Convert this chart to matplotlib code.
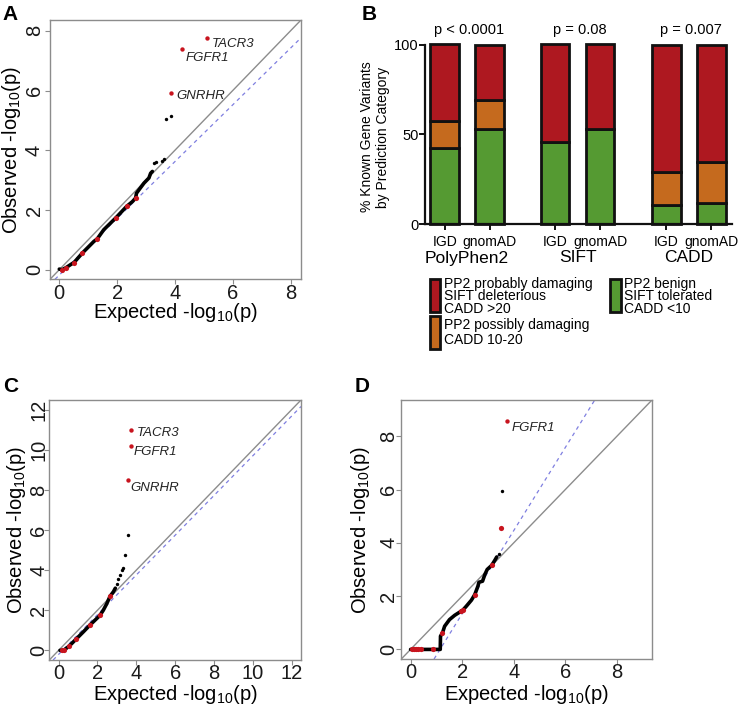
import matplotlib
matplotlib.use("Agg")
import matplotlib.pyplot as plt
from matplotlib.patches import Rectangle

plt.rcParams["font.family"] = ["Liberation Sans", "DejaVu Sans"]
plt.rcParams["mathtext.fontset"] = "custom"
plt.rcParams["mathtext.rm"] = "Liberation Sans"
plt.rcParams["mathtext.it"] = "Liberation Sans:italic"

W, H, DPI = 744, 711, 100
RED, ORANGE, GREEN = "#AE1820", "#C56A1E", "#559A32"
PT_RED = "#C8141E"
GREY = "#8c8c8c"
DASH = "#7f7fe0"

# ---------------- data ----------------
# panel A: QQ plot (expected vs observed -log10 p)
a_exp = [0.0, 0.10, 0.22, 0.39, 0.51, 0.80, 1.20, 1.31, 1.54, 1.95, 2.33, 2.53, 2.64,
         2.67, 2.76, 2.93, 3.10, 3.16, 3.22]
a_obs = [0.02, 0.0, 0.06, 0.17, 0.24, 0.56, 0.95, 1.03, 1.34, 1.73, 2.12, 2.28, 2.40,
         2.56, 2.68, 2.90, 3.07, 3.23, 3.29]
a_tail_exp = [3.27, 3.34, 3.54, 3.61, 3.70, 3.86]
a_tail_obs = [3.57, 3.59, 3.65, 3.70, 5.04, 5.16]
a_red_exp = [0.10, 0.22, 0.51, 0.80, 1.31, 1.95, 2.33, 2.64]
a_red_obs = [0.0, 0.06, 0.24, 0.56, 1.03, 1.73, 2.12, 2.40]
a_gene = ["GNRHR", "FGFR1", "TACR3"]
a_gene_exp = [3.88, 4.26, 5.11]
a_gene_obs = [5.91, 7.38, 7.75]

# panel B: stacked % of known gene variants by prediction category
tools = ["PolyPhen2", "SIFT", "CADD"]
cohorts = ["IGD", "gnomAD", "IGD", "gnomAD", "IGD", "gnomAD"]
benign = [42.5, 52.9, 45.6, 53.2, 10.9, 11.8]
possibly = [15.2, 16.4, 0.0, 0.0, 18.3, 22.7]
damaging = [42.3, 30.7, 54.4, 46.8, 70.8, 65.5]
pvals = ["p < 0.0001", "p = 0.08", "p = 0.007"]

# panel C
c_exp = [0.07, 0.17, 0.26, 0.55, 0.58, 0.92, 1.27, 1.60, 2.05, 2.13, 2.30, 2.48, 2.65,
         2.82, 2.92]
c_obs = [0.0, 0.0, 0.0, 0.22, 0.25, 0.58, 0.92, 1.25, 1.67, 1.75, 2.0, 2.33, 2.70,
         2.92, 3.10]
c_tail_exp = [3.0, 3.08, 3.17, 3.25, 3.30, 3.42, 3.55]
c_tail_obs = [3.33, 3.58, 3.75, 4.0, 4.12, 4.75, 5.75]
c_red_exp = [0.17, 0.26, 0.55, 0.92, 1.60, 2.13, 2.65]
c_red_obs = [0.0, 0.0, 0.22, 0.58, 1.25, 1.75, 2.70]
c_gene = ["GNRHR", "FGFR1", "TACR3"]
c_gene_exp = [3.56, 3.71, 3.75]
c_gene_obs = [8.47, 10.17, 11.0]

# panel D
d_exp = [0.0, 1.15, 1.16, 1.23, 1.32, 1.51, 1.71, 1.97, 2.03, 2.16, 2.36, 2.49, 2.61,
         2.65, 2.79, 2.88, 2.97, 3.14, 3.27, 3.34]
d_obs = [0.0, 0.0, 0.50, 0.60, 0.87, 1.12, 1.28, 1.44, 1.48, 1.62, 1.85, 2.06, 2.37,
         2.52, 2.56, 2.81, 3.0, 3.15, 3.35, 3.47]
d_tail_exp = [3.42, 3.55]
d_tail_obs = [3.57, 5.96]
d_red_exp = [0.05, 0.12, 0.20, 0.30, 0.40, 0.87, 1.23, 1.97, 2.03, 2.49, 3.14, 3.50]
d_red_obs = [0.0, 0.0, 0.0, 0.0, 0.0, 0.0, 0.60, 1.44, 1.48, 2.06, 3.15, 4.54]
d_gene = ["FGFR1"]
d_gene_exp = [3.73]
d_gene_obs = [8.59]

fig = plt.figure(figsize=(W / DPI, H / DPI), dpi=DPI)


def px_rect(x0, y0, x1, y1):
    return [x0 / W, 1 - y1 / H, (x1 - x0) / W, (y1 - y0) / H]


def qq_panel(rect, top, ticks, exp, obs, t_exp, t_obs, r_exp, r_obs,
             genes, g_exp, g_obs, g_off, dash, ylab_x, xlab_y, ypad):
    ax = fig.add_axes(rect)
    lim = (-0.04 * top, 1.04 * top)
    ax.set_xlim(lim); ax.set_ylim(lim)
    ax.axline((0, 0), slope=1, color=GREY, lw=1.0, zorder=1)
    ax.axline((0, dash[0]), slope=dash[1], color=DASH, lw=0.9,
              ls=(0, (3, 3)), zorder=1)
    ax.plot(exp, obs, color="black", lw=2.6, zorder=2, solid_capstyle="round")
    ax.scatter(t_exp, t_obs, s=6, color="black", lw=0, zorder=3)
    ax.scatter(r_exp, r_obs, s=14, color=PT_RED, lw=0, zorder=4)
    ax.scatter(g_exp, g_obs, s=10, color=PT_RED, lw=0, zorder=4)
    for g, x, y, (dx, dy) in zip(genes, g_exp, g_obs, g_off):
        ax.annotate(g, (x, y), xytext=(dx, dy), textcoords="offset pixels",
                    fontsize=9.5, style="italic", color="#222222",
                    ha="left", va="center")
    for s in ax.spines.values():
        s.set_color(GREY); s.set_linewidth(1.0)
    ax.set_xticks(ticks); ax.set_yticks(ticks)
    ax.tick_params(length=3.6, width=0.8, color=GREY, labelsize=14.5,
                   labelcolor="#1a1a1a")
    ax.tick_params(axis="x", pad=-0.5)
    ax.tick_params(axis="y", pad=ypad)
    for lab in ax.get_yticklabels():
        lab.set_rotation(90)
        lab.set_rotation_mode("anchor")
        lab.set_ha("center")
        lab.set_va("baseline")
    ax.text(0.5, xlab_y, r"Expected -log$_{10}$(p)", transform=ax.transAxes,
            ha="center", va="center", fontsize=14.5)
    ax.text(ylab_x, 0.5, r"Observed -log$_{10}$(p)", transform=ax.transAxes,
            ha="center", va="center", rotation=90, fontsize=14.5)
    return ax


# A
qq_panel(px_rect(50, 20, 301, 279.3), 8.04, [0, 2, 4, 6, 8],
         a_exp, a_obs, a_tail_exp, a_tail_obs, a_red_exp, a_red_obs,
         a_gene, a_gene_exp, a_gene_obs, [(5, -3), (3, -9), (5, -6)],
         (-0.18, 0.95), (12 - 50) / 251, (279.3 - 313) / 259.3, 3.6)
# C
qq_panel(px_rect(49.3, 400, 301, 660), 12.0, [0, 2, 4, 6, 8, 10, 12],
         c_exp, c_obs, c_tail_exp, c_tail_obs, c_red_exp, c_red_obs,
         c_gene, c_gene_exp, c_gene_obs, [(3, -8), (3, -6), (5, -3)],
         (-0.2, 0.99), (17 - 49.3) / 251.7, (660 - 695) / 260, 0.0)
# D
qq_panel(px_rect(401.3, 400, 652, 659), 9.0, [0, 2, 4, 6, 8],
         d_exp, d_obs, d_tail_exp, d_tail_obs, d_red_exp, d_red_obs,
         d_gene, d_gene_exp, d_gene_obs, [(5, -7)],
         (-1.78, 1.56), (360 - 401.3) / 250.7, (659 - 695) / 259, 1.6)

# B: stacked bars
axb = fig.add_axes(px_rect(425.3, 44.5, 732, 224.3))
xpos = [0, 1, 2.45, 3.45, 4.92, 5.92]
bw = 0.64
bot2 = [b + p for b, p in zip(benign, possibly)]
kw = dict(width=bw, edgecolor="#111111", linewidth=2.0, clip_on=False, zorder=2)
axb.bar(xpos, benign, color=GREEN, **kw)
axb.bar(xpos, possibly, bottom=benign, color=ORANGE, **kw)
axb.bar(xpos, damaging, bottom=bot2, color=RED, **kw)
axb.set_xlim(-0.43, 6.38); axb.set_ylim(0, 100)
for k in ("top", "right"):
    axb.spines[k].set_visible(False)
for k in ("left", "bottom"):
    axb.spines[k].set_linewidth(1.6); axb.spines[k].set_color("#111111")
axb.set_yticks([0, 50, 100])
axb.set_xticks(xpos, cohorts)
axb.tick_params(length=4, width=1.4, color="#111111", labelsize=10.5, pad=1)
axb.tick_params(axis="x", labelsize=10, pad=4)
tr = axb.get_xaxis_transform()
for i, (t, p) in enumerate(zip(tools, pvals)):
    cx = (xpos[2 * i] + xpos[2 * i + 1]) / 2
    axb.text(cx, (224.3 - 258) / 179.8, t, transform=tr, ha="center",
             va="center", fontsize=12.5)
    axb.text(cx + 0.05, (224.3 - 30) / 179.8, p, transform=tr, ha="center",
             va="center", fontsize=10.5)

# overlay for panel letters, B y-label and legend (pixel coords)
ov = fig.add_axes([0, 0, 1, 1], zorder=-1)
ov.set_xlim(0, W); ov.set_ylim(H, 0); ov.axis("off")
for L, x, y in [("A", 10, 14), ("B", 369, 14), ("C", 11, 386), ("D", 362, 386)]:
    ov.text(x, y, L, fontsize=15, fontweight="bold", ha="center", va="center")
ov.text(375, 137, "% Known Gene Variants\nby Prediction Category", rotation=90,
        ha="center", va="center", multialignment="center", fontsize=10,
        linespacing=1.25)

legend = [(428.7, 278, RED, ["PP2 probably damaging", "SIFT deleterious", "CADD >20"]),
          (428.7, 315, ORANGE, ["PP2 possibly damaging", "CADD 10-20"]),
          (609, 278, GREEN, ["PP2 benign", "SIFT tolerated", "CADD <10"])]
for x, y, col, lines in legend:
    ov.add_patch(Rectangle((x + 1, y + 1), 10.5, 33, facecolor=col,
                           edgecolor="#111111", lw=2.0))
    n = len(lines)
    for j, s in enumerate(lines):
        yy = y + 6 + j * 12.4 if n == 3 else y + 10 + j * 15
        ov.text(x + 15.5, yy, s, fontsize=10, ha="left", va="center")

fig.savefig("out.png", dpi=DPI)
